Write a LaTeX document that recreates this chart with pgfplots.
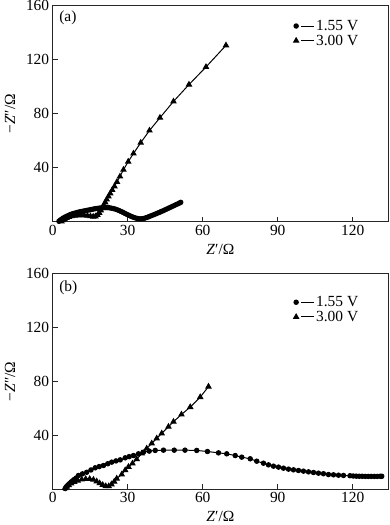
\documentclass[border=0pt]{standalone}
\usepackage{fontspec}
\setmainfont{Liberation Serif}
\usepackage{pgfplots}
\pgfplotsset{compat=1.18}
\begin{document}
\begin{tikzpicture}
\useasboundingbox (-52.7bp,-303.2bp) rectangle (337.3bp,221.8bp);
\pgfplotsset{
  myax/.style={
    width=335.3bp, scale only axis,
    xmin=0, xmax=134.1, ymin=0, ymax=160,
    xtick={0,30,60,90,120}, ytick={40,80,120,160},
    xtick pos=bottom, ytick pos=left, tick align=inside,
    major tick length=5bp,
    axis line style={black!85, line width=1pt},
    every tick/.style={black!85, line width=0.9pt},
    /pgf/number format/assume math mode=true,
    tick label style={font=\fontsize{15.5}{18}\selectfont},
    label style={font=\fontsize{15.5}{18}\selectfont},
    xlabel={\textit{Z}′/Ω},
    ylabel={−\textit{Z}″/Ω},
    xlabel style={at={(axis description cs:0.5,-0.126)}, anchor=center},
    ylabel style={at={(axis description cs:-0.127,0.5)}, anchor=center},
    legend cell align=left,
    legend image code/.code={
      \draw[##1] plot coordinates {(0bp,0bp)};
      \draw[##1,mark=none] (5bp,0bp)--(18bp,0bp);
    },
    circ/.style={black, line width=1pt, mark=*, mark size=2.2bp, mark options={solid, fill=black}},
    tri/.style={black, line width=1pt, mark=triangle*, mark size=2.9bp, mark options={solid, fill=black}},
  }
}
% ---------------- (a)
\begin{axis}[myax, at={(0bp,0bp)}, anchor=south west, height=216.3bp,
  legend style={at={(axis description cs:0.718,0.94)}, anchor=north west, draw=none, fill=none,
    font=\fontsize{15.5}{18}\selectfont, row sep=0bp, inner sep=0pt, nodes={inner sep=1.5bp}}]
\addplot[circ] coordinates {
(2.5,0.4)(3,1.2)(3.6,2)(4.2,2.8)(5,3.6)(5.8,4.3)(6.6,5)(7.4,5.6)(8.2,6.1)(9,6.5)(9.8,6.9)(10.6,7.3)(11.4,7.6)(12.2,7.9)(13,8.2)(13.8,8.5)(14.6,8.8)(15.4,9.1)(16.2,9.4)(17,9.7)(17.8,9.9)(18.6,10.1)(19.4,10.3)(20.2,10.4)(21,10.5)(21.8,10.5)(22.6,10.4)(23.4,10.1)(24.2,9.8)(25,9.4)(25.8,8.9)(26.6,8.3)(27.4,7.6)(28.2,6.9)(29,6.1)(29.8,5.4)(30.6,4.7)(31.4,4)(32.2,3.4)(33,2.9)(33.8,2.5)(34.6,2.2)(35.4,2.2)(36.2,2.4)(37,2.8)(37.8,3.3)(38.6,3.9)(39.4,4.5)(40.2,5.1)(41,5.7)(41.8,6.3)(42.6,6.9)(43.4,7.6)(44.2,8.2)(45,8.9)(45.8,9.6)(46.6,10.3)(47.4,11)(48.2,11.7)(49,12.4)(49.8,13.1)(50.6,13.8)(51.2,14.4)
};
\addlegendentry{1.55 V}
\addplot[tri] coordinates {
(3.5,0.3)(4,1.2)(4.7,2.1)(5.5,2.9)(6.5,3.6)(7.6,4.2)(8.8,4.6)(10,4.8)(11.3,4.9)(12.6,4.8)(13.9,4.5)(15.1,4.1)(16.2,3.8)(17.1,4)(17.9,5)(18.6,6.6)(19.2,8.5)(19.8,10.4)(20.4,12.4)(21,14.4)(21.6,16.5)(22.3,18.7)(23,21)(23.8,23.5)(24.7,26.2)(25.7,29.5)(26.9,33.5)(28.3,38.5)(30.2,44.5)(32.3,50.5)(35.2,58.5)(38.7,67.5)(42.9,77)(48.3,89)(54.5,101.5)(61.3,114.5)(69.3,130.5)
};
\addlegendentry{3.00 V}
\node[anchor=west, font=\fontsize{15.5}{18}\selectfont, inner sep=0pt] at (axis description cs:0.019,0.944) {(a)};
\end{axis}
% ---------------- (b)
\begin{axis}[myax, at={(0bp,-267.4bp)}, anchor=south west, height=215.4bp,
  legend style={at={(axis description cs:0.718,0.903)}, anchor=north west, draw=none, fill=none,
    font=\fontsize{15.5}{18}\selectfont, row sep=0bp, inner sep=0pt, nodes={inner sep=1.5bp}}]
\addplot[circ] coordinates {
(5,0.5)(5.3,1.2)(5.6,2)(6,2.8)(6.4,3.6)(6.9,4.5)(7.4,5.4)(8,6.3)(8.6,7.2)(9.4,8.3)(10.3,10.2)(11.9,11.4)(13.6,12.6)(15.3,14.3)(17,15.9)(18.6,16.8)(20.3,17.6)(22,18.9)(23.6,20.1)(25.3,21)(27,21.8)(29,23.3)(30.6,24.2)(32.3,25)(34.3,26.3)(36.3,27.5)(38.6,28.3)(41,28.8)(44.3,29)(48.6,29)(52.9,29)(57.6,28.8)(61.9,28)(66.3,27)(69.6,26.3)(73,25)(75.6,23.8)(79,22.6)(81.6,20.8)(84.3,19.3)(86.3,18.1)(88.3,17.1)(90.3,16.4)(92.3,15.6)(94.3,14.9)(96.3,14.4)(98.3,13.9)(100.3,13.4)(102.3,12.9)(104.3,12.4)(106.3,11.9)(108.3,11.5)(110.3,10.9)(112.3,10.7)(114.3,10.4)(116.3,10.2)(118.9,10)(120.2,9.8)(121.4,9.7)(122.6,9.6)(123.8,9.6)(125,9.5)(126.2,9.5)(127.4,9.5)(128.6,9.5)(129.8,9.5)(131,9.6)(131.6,9.6)
};
\addlegendentry{1.55 V}
\addplot[tri] coordinates {
(5,0.8)(5.6,1.8)(6.4,3)(7.4,4.2)(8.6,5.4)(10,6.4)(11.6,7.2)(13.2,7.6)(14.8,7.6)(16.3,7)(17.6,5.8)(18.8,4.4)(20,3.2)(21.2,2.3)(22.4,2.2)(23.5,3.6)(24.6,5.6)(25.6,7.9)(27.6,10.9)(29,14.1)(30.3,16.6)(31.9,19.1)(33.6,22.3)(35.6,26.5)(37.6,30.2)(39.6,34)(41.6,37.7)(43.6,41.4)(46.3,46.4)(48.3,50.1)(51.5,55.5)(55,61)(59,68.4)(62.3,76.2)
};
\addlegendentry{3.00 V}
\node[anchor=west, font=\fontsize{15.5}{18}\selectfont, inner sep=0pt] at (axis description cs:0.019,0.935) {(b)};
\end{axis}
\end{tikzpicture}
\end{document}
